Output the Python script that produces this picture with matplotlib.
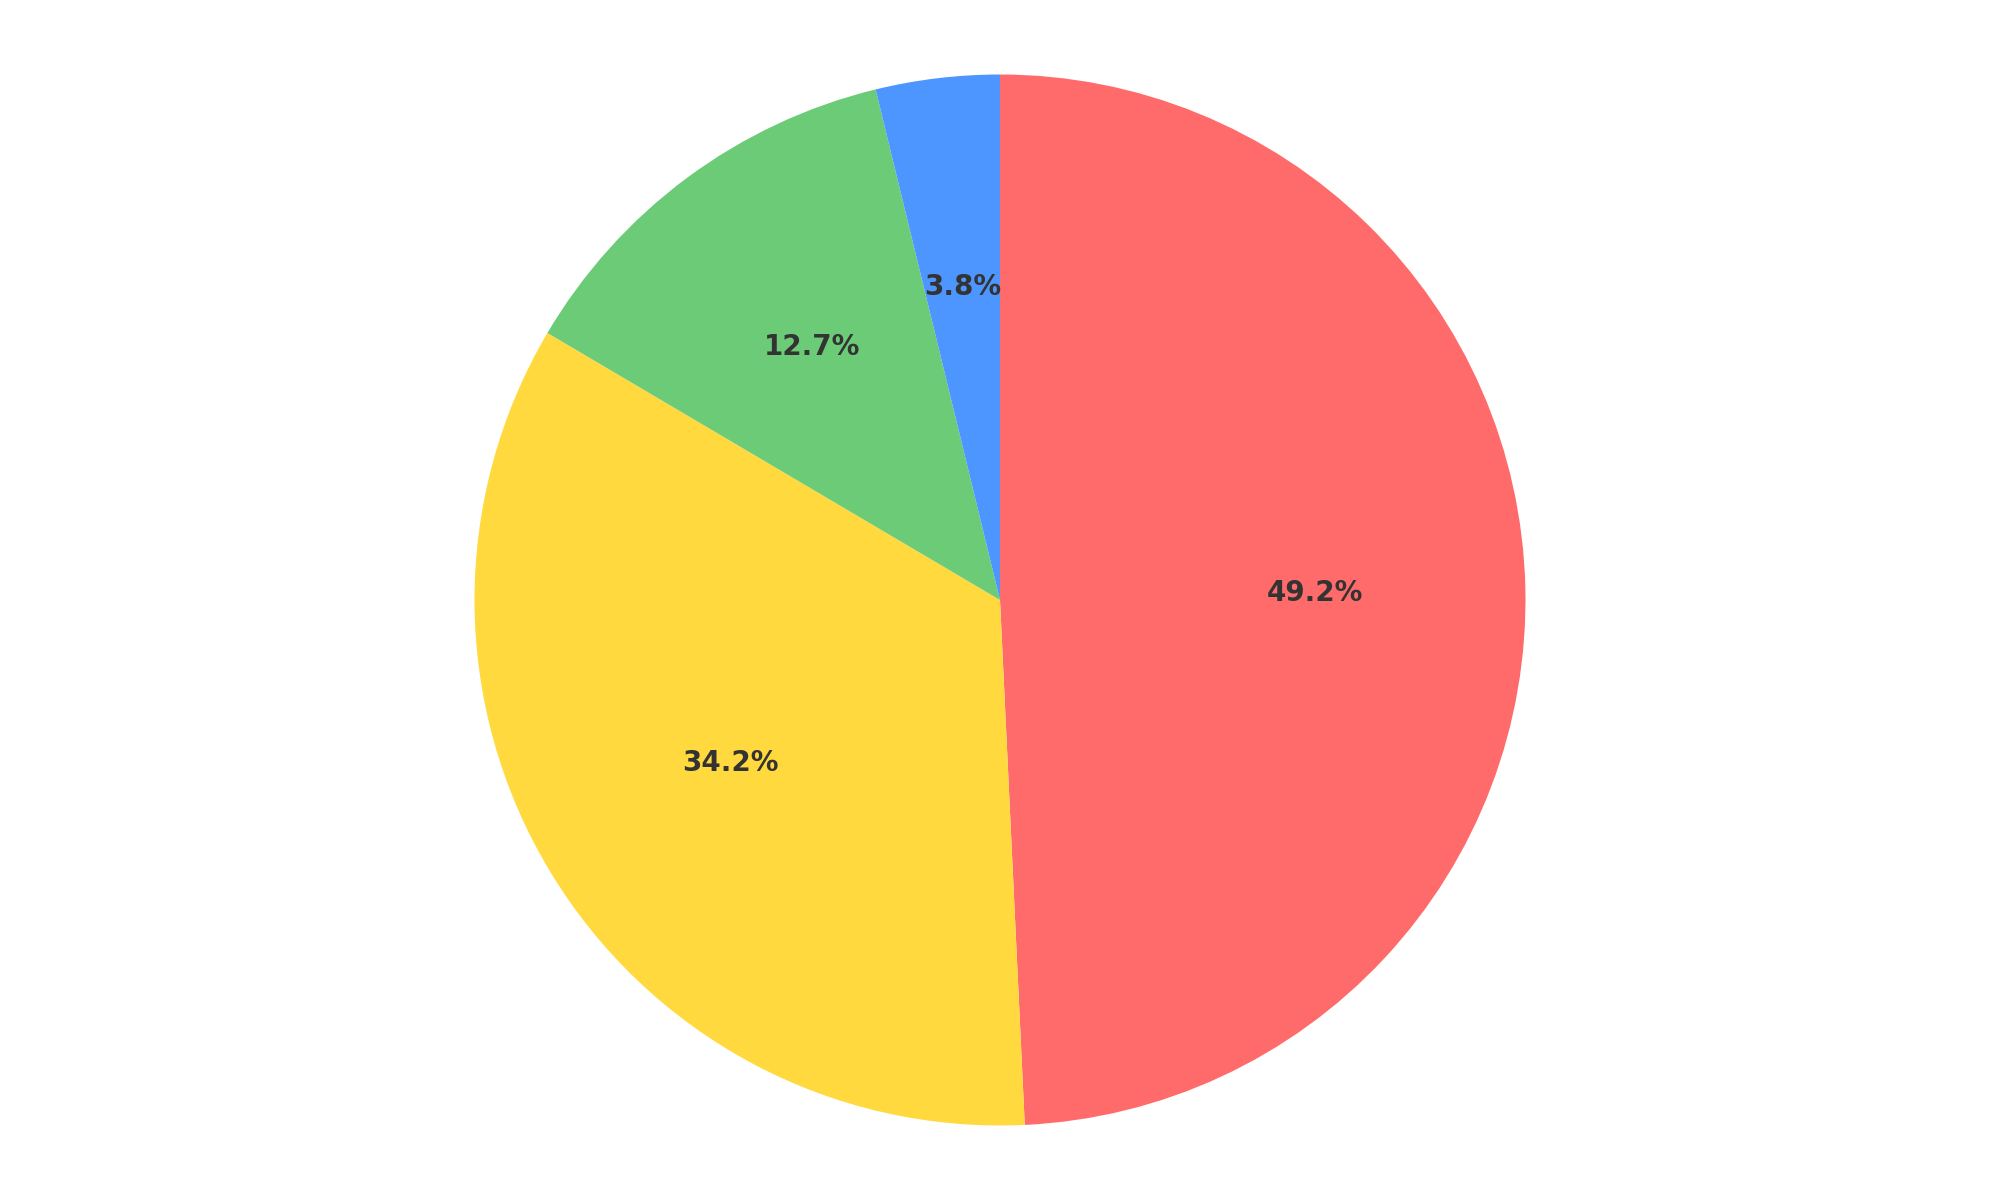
import matplotlib
matplotlib.use('Agg')
import matplotlib.pyplot as plt

# slice shares (percent), in drawing order clockwise from the top
shares = [49.2, 34.2, 12.7, 3.8]
colors = ['#FF6B6B', '#FFD93D', '#6BCB77', '#4D96FF']

fig = plt.figure(figsize=(20, 12), dpi=100)
ax = fig.add_axes([0, 0, 1, 1])

wedges, texts, autotexts = ax.pie(shares, colors=colors, startangle=90,
                                  counterclock=False, autopct='%1.1f%%',
                                  pctdistance=0.6)
for t in autotexts:
    t.set_color('#333333')
    t.set_fontsize(20)
    t.set_fontweight('bold')

half = 600 / 525.5
ax.set_ylim(-half, half)
ax.set_xlim(-half * 2000 / 1200, half * 2000 / 1200)
ax.set_aspect('equal')
ax.axis('off')

fig.savefig('out.png', dpi=100)
